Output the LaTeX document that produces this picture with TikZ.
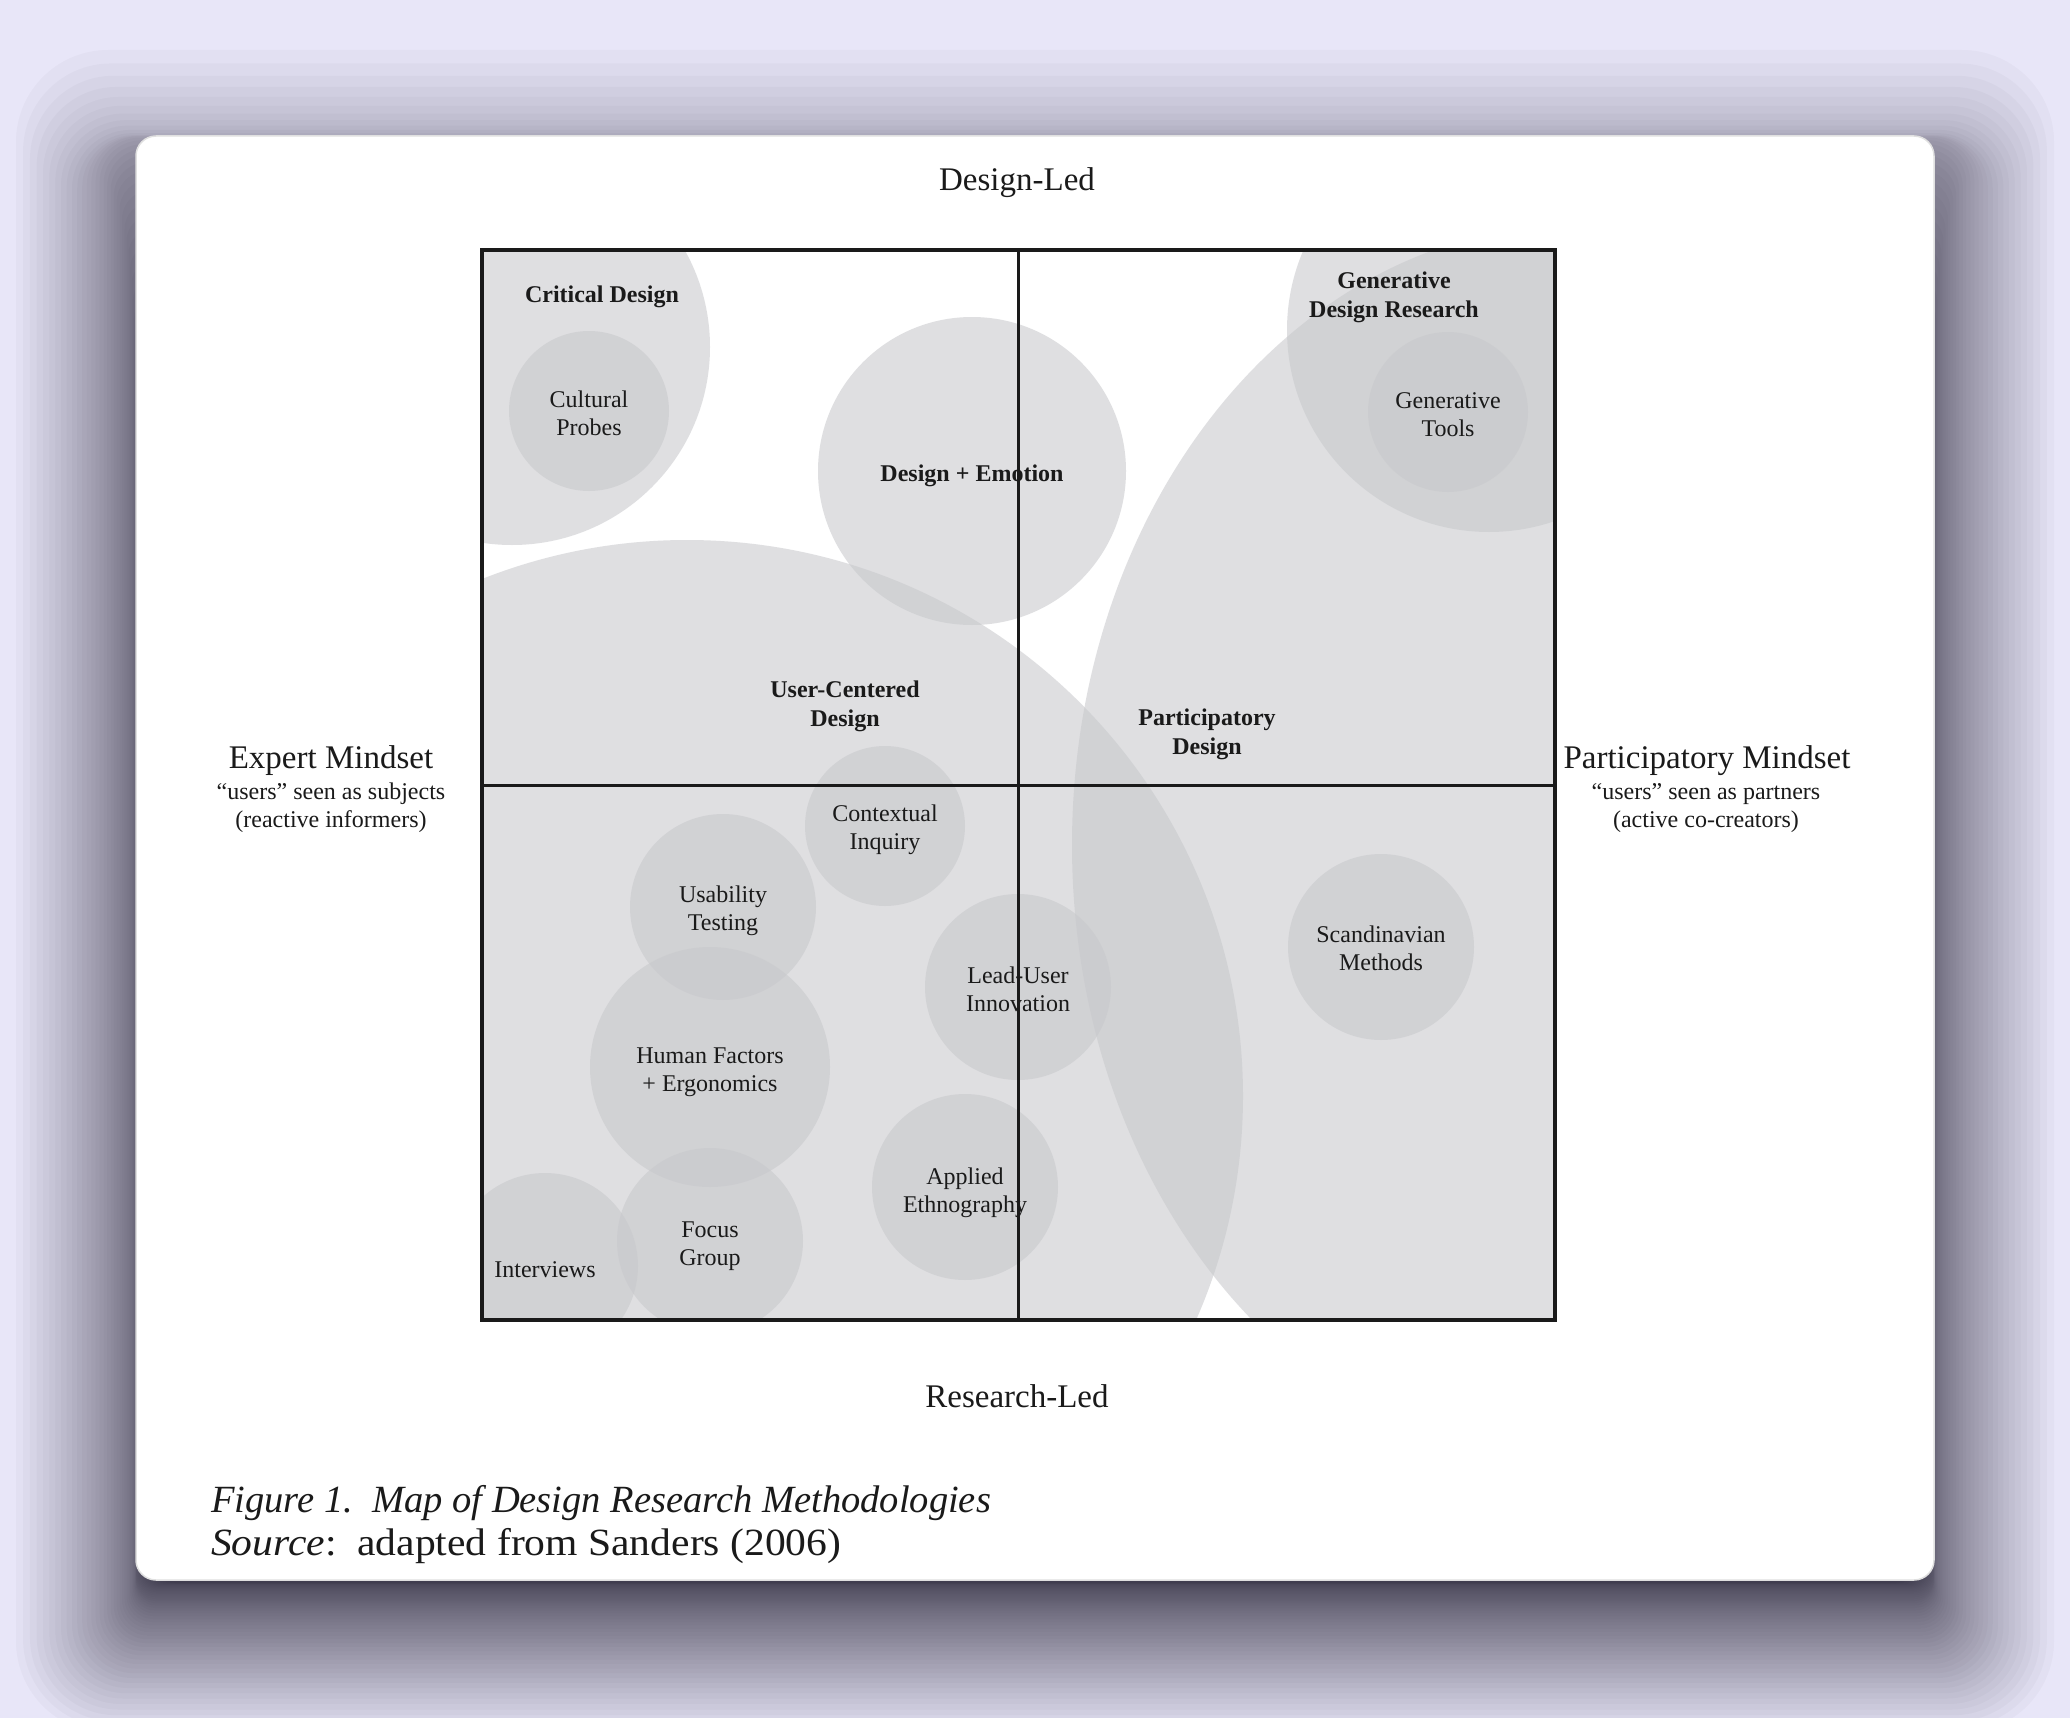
\documentclass[tikz,border=0pt]{standalone}
\usepackage{fontspec}
\setmainfont{Liberation Serif}
\definecolor{bgc}{RGB}{232,230,248}
\definecolor{shc}{RGB}{28,25,43}
\definecolor{blobc}{RGB}{200,201,204}
\definecolor{txt}{RGB}{26,26,26}
\begin{document}
\begin{tikzpicture}[x=1pt,y=-1pt,
  blob/.style={fill=blobc, fill opacity=0.58},
  lbl/.style={align=center, inner sep=0pt, text=txt, font=\fontsize{24}{28}\selectfont},
  blbl/.style={align=center, inner sep=0pt, text=txt, font=\fontsize{24}{29}\selectfont\bfseries},
  axislbl/.style={text=txt, inner sep=0pt, font=\fontsize{33}{38}\selectfont},
  sublbl/.style={text=txt, align=center, inner sep=0pt, font=\fontsize{24}{28}\selectfont},
  caplbl/.style={text=txt, inner sep=0pt, anchor=base west, font=\fontsize{38.5}{42}\selectfont},
  divider/.style={draw=txt, line width=3pt},
]
\fill[bgc] (0,0) rectangle (2070,1718);
\useasboundingbox (0,0) rectangle (2070,1718);
% shadow (layered soft shadow)
\foreach \i in {0,...,49} {
  \pgfmathsetmacro\u{\i/49}
  \pgfmathsetmacro\ws{1-\u/0.68}
  \pgfmathsetmacro\dl{120*\ws*abs(\ws)}
  \pgfmathsetmacro\wt{1-\u/0.25}
  \pgfmathsetmacro\dt{86*\wt*abs(\wt)}
  \pgfmathsetmacro\db{3+150*(1-\u)*(1-\u)}
  \pgfmathsetmacro\rr{max(12,20+0.6*\dl)}
  \fill[shc, fill opacity=0.028, rounded corners=\rr pt] (136-\dl,136-\dt) rectangle (1934+\dl,1580+\db);
}
% card
\fill[white, rounded corners=20pt] (136,136) rectangle (1934,1580);
\draw[black!12, line width=1.5pt, rounded corners=20pt] (136,136) rectangle (1934,1580);

% shapes
\begin{scope}
\clip (482,250) rectangle (1555,1320);
\fill[blob] (512,347) circle [radius=198];
\fill[blob] (972,471) circle [radius=154];
\fill[blob] (1489,330) circle [radius=202];
\fill[blob] (687,1096) circle [radius=556];
\fill[blob] (1576,845) ellipse [x radius=504, y radius=620];
\fill[blob] (589,411) circle [radius=80];
\fill[blob] (1448,412) circle [radius=80];
\fill[blob] (885,826) circle [radius=80];
\fill[blob] (723,907) circle [radius=93];
\fill[blob] (710,1067) circle [radius=120];
\fill[blob] (1018,987) circle [radius=93];
\fill[blob] (965,1187) circle [radius=93];
\fill[blob] (710,1241) circle [radius=93];
\fill[blob] (545,1266) circle [radius=93];
\fill[blob] (1381,947) circle [radius=93];
\end{scope}

% labels
\node[blbl] (critical) at (602,297) {Critical Design};
\node[lbl] (probes) at (589,413) {Cultural\\Probes};
\node[blbl] (emotion) at (972,476) {Design + Emotion};
\node[blbl] (gdr) at (1394,297) {Generative\\Design Research};
\node[lbl] (tools) at (1448,415) {Generative\\Tools};
\node[blbl] (ucd) at (845,706) {User-Centered\\Design};
\node[blbl] (pd) at (1207,734) {Participatory\\Design};
\node[lbl] (ci) at (885,830) {Contextual\\Inquiry};
\node[lbl] (usab) at (723,911) {Usability\\Testing};
\node[lbl] (hf) at (710,1072) {Human Factors\\+ Ergonomics};
\node[lbl] (lead) at (1018,989) {Lead-User\\Innovation};
\node[lbl] (ethno) at (965,1193) {Applied\\Ethnography};
\node[lbl] (focus) at (710,1246) {Focus\\Group};
\node[lbl] (interv) at (545,1270) {Interviews};
\node[lbl] (scand) at (1381,948) {Scandinavian\\Methods};

% frame and dividers
\node[draw=txt, line width=4pt, minimum width=1073pt, minimum height=1070pt, inner sep=0pt] (sq) at (1018.5,785) {};
\draw[divider] (sq.north) -- (sq.south);
\draw[divider] (sq.west) -- (sq.east);

% axis labels
\node[axislbl] (dled) at (1017,183) {Design-Led};
\node[axislbl] (rled) at (1017,1396) {Research-Led};
\node[axislbl] (expert) at (331,761) {Expert Mindset};
\node[sublbl] (expsub) at (331,808) {“users” seen as subjects\\(reactive informers)};
\node[axislbl] (partm) at (1707,761) {Participatory Mindset};
\node[sublbl] (partsub) at (1706,808) {“users” seen as partners\\(active co-creators)};

% caption
\node[caplbl] (cap1) at (211,1512) {\itshape Figure 1.\ \ Map of Design Research Methodologies};
\node[caplbl] (cap2) at (211,1555) {\scalebox{1.08}[1]{\textit{Source}:\ \ adapted from Sanders (2006)}};
\end{tikzpicture}
\end{document}
